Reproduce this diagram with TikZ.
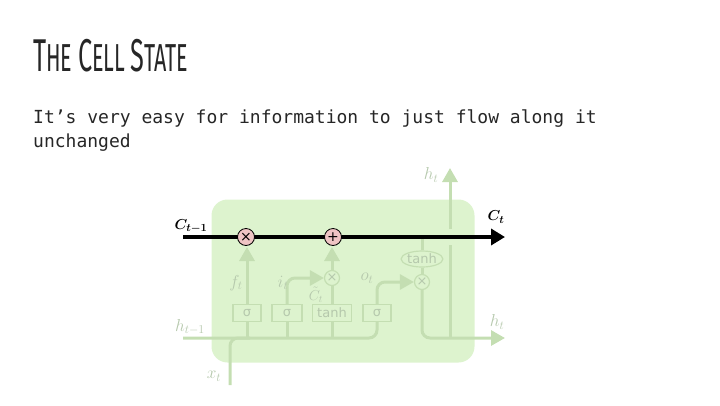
\documentclass[tikz,border=0pt]{standalone}
\usepackage{fontspec}
\usepackage{amsmath}
\setmonofont{DejaVu Sans Mono}
\newfontfamily\titlefont[FakeStretch=0.55]{Fira Sans}
\newfontfamily\gatefont{DejaVu Sans}
\usetikzlibrary{arrows.meta, positioning, shapes.geometric, calc}
\definecolor{CellGreen}{HTML}{DDF3CE}
\definecolor{LineGreen}{HTML}{C4DEB2}
\definecolor{FadeText}{HTML}{B5C8AC}
\definecolor{OpPink}{HTML}{EFC4C4}
\newcommand{\bigcapital}[1]{{\fontsize{46}{46}\selectfont #1}}

\tikzset{
    flow/.style={draw=LineGreen, line width=3pt},
    flowarrow/.style={flow, -{Triangle[length=14pt,width=15pt]}},
    gatebox/.style={draw=LineGreen, line width=1.2pt, fill=CellGreen, minimum width=28pt,
        minimum height=17pt, inner sep=0pt, text=FadeText, font=\gatefont\fontsize{13}{13}\selectfont},
    opfade/.style={circle, draw=LineGreen, line width=1.2pt, fill=CellGreen, minimum size=15pt,
        inner sep=0pt, text=FadeText, font=\gatefont\fontsize{13}{13}\selectfont},
    opcell/.style={circle, draw=black, line width=0.8pt, fill=OpPink, minimum size=17pt,
        inner sep=0pt, font=\gatefont\fontsize{14}{14}\selectfont},
    fadelabel/.style={text=FadeText, inner sep=0pt, font=\fontsize{17}{17}\selectfont},
    celllabel/.style={inner sep=0pt, font=\fontsize{15}{15}\selectfont}
}

\begin{document}
\begin{tikzpicture}[x=1pt, y=-1pt]
    \useasboundingbox (0,0) rectangle (720,405);

    % === Heading ===
    \node[anchor=base west, inner sep=0pt, text=black!85] (title) at (33,71)
        {\titlefont\fontsize{39}{39}\selectfont \bigcapital{T}HE \bigcapital{C}ELL \bigcapital{S}TATE};
    \node[anchor=base west, inner sep=0pt, text=black!85, font=\ttfamily\fontsize{18}{18}\selectfont] (line1) at (33,123)
        {It’s very easy for information to just flow along it};
    \node[anchor=base west, inner sep=0pt, text=black!85, font=\ttfamily\fontsize{18}{18}\selectfont] (line2) at (33,147)
        {unchanged};

    % === Cell body ===
    \node[fill=CellGreen, rounded corners=16pt, minimum width=263pt, minimum height=163pt] (cell) at (343,281) {};

    % Free ends
    \coordinate (cin) at (183,237);
    \coordinate (cout) at (505,237);
    \coordinate (hin) at (183,338);
    \coordinate (hout) at (505,338);
    \coordinate (xin) at (230,385);
    \coordinate (htop) at (450,168);
    \coordinate (hgaplow) at (450,245);
    \coordinate (hgapup) at (450,229);

    % Gates
    \node[gatebox] (sigf) at (247,313) {σ};
    \node[gatebox, minimum width=30pt] (sigi) at (287,313) {σ};
    \node[gatebox, minimum width=39pt] (tanhi) at (332,313) {tanh};
    \node[gatebox] (sigo) at (377,313) {σ};

    % Pointwise ops inside
    \node[opfade] (inmul) at (332,278) {×};
    \node[opfade] (outmul) at (422,282) {×};
    \node[ellipse, draw=LineGreen, line width=1.2pt, fill=CellGreen, minimum width=40pt, minimum height=16pt,
        inner sep=0pt, text=FadeText, font=\gatefont\fontsize{13}{13}\selectfont] (tanhc) at (422,259) {tanh};

    % Input lines
    \draw[flow, rounded corners=8pt] (hin) -- (sigo |- hin) -- (sigo.south);
    \draw[flow, rounded corners=8pt] (xin) -- (xin |- hin) -- ($(xin |- hin)+(20,0)$);
    \draw[flow] (sigf |- hin) -- (sigf.south);
    \draw[flow] (sigi |- hin) -- (sigi.south);
    \draw[flow] (tanhi |- hin) -- (tanhi.south);

    % Gate outputs
    \draw[flowarrow] (sigf.north) -- ($(sigf |- cin)+(0,10)$);
    \draw[flowarrow, rounded corners=8pt] (sigi.north) |- (inmul.west);
    \draw[flow] (tanhi.north) -- (inmul.south);
    \draw[flowarrow] (inmul.north) -- ($(inmul |- cin)+(0,10)$);
    \draw[flowarrow, rounded corners=8pt] (sigo.north) |- (outmul.west);

    % Output path
    \draw[flow] (tanhc.north) -- (tanhc |- cin);
    \draw[flow] (tanhc.south) -- (outmul.north);
    \draw[flowarrow, rounded corners=8pt] (outmul.south) |- (hout);
    \draw[flow] (htop |- hout) -- (hgaplow);
    \draw[flowarrow] (hgapup) -- (htop);

    % Cell state line
    \draw[line width=4pt, -{Triangle[length=14pt,width=16pt]}] (cin) -- (cout);
    \node[opcell] (forget) at (246,237) {×};
    \node[opcell] (add) at (333,237) {+};

    % Labels
    \node[celllabel] (lcin) at (191,226) {$\boldsymbol{C_{t-1}}$};
    \node[celllabel] (lcout) at (496,217) {$\boldsymbol{C_t}$};
    \node[fadelabel] (lhin) at (190,327) {$h_{t-1}$};
    \node[fadelabel] (lxin) at (214,376) {$x_t$};
    \node[fadelabel] (lf) at (236,283) {$f_t$};
    \node[fadelabel] (li) at (283,283) {$i_t$};
    \node[fadelabel, font=\fontsize{14}{14}\selectfont] (lc) at (316,295) {$\tilde{C}_t$};
    \node[fadelabel] (lo) at (367,278) {$o_t$};
    \node[fadelabel] (lhtop) at (431,175) {$h_t$};
    \node[fadelabel] (lhout) at (497,322) {$h_t$};
\end{tikzpicture}
\end{document}
